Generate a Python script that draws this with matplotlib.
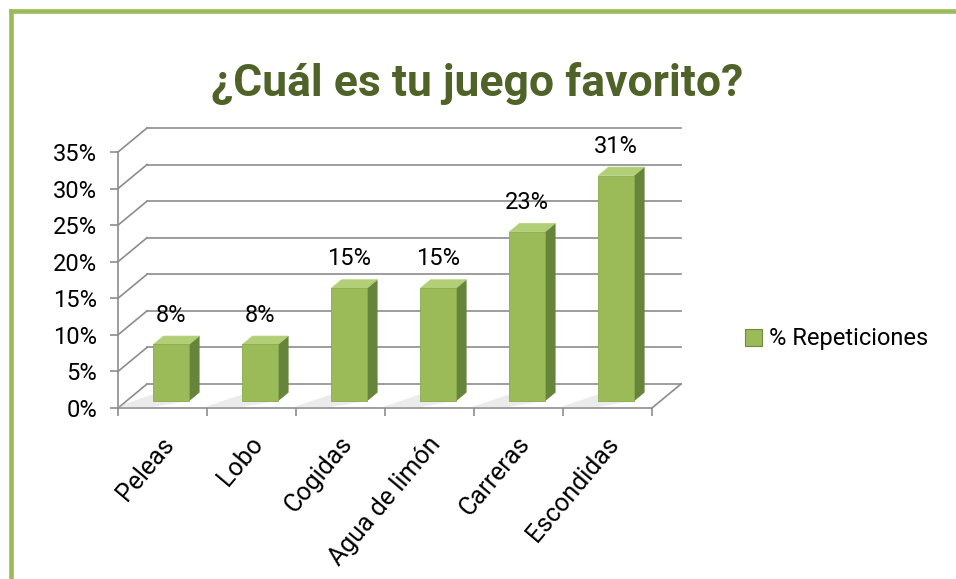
#!/usr/bin/env python3
"""
Recreates the "¿Cuál es tu juego favorito?" 3D-style column chart.
Output: out.png (956x579)
"""

import numpy as np
import matplotlib.pyplot as plt
from matplotlib.patches import Polygon, Rectangle
from matplotlib.lines import Line2D
from matplotlib.ticker import PercentFormatter
from matplotlib.transforms import ScaledTranslation

# -----------------------------
# Data
# -----------------------------
categories = ["Peleas", "Lobo", "Cogidas", "Agua de limón", "Carreras", "Escondidas"]
values = [0.077, 0.077, 0.154, 0.154, 0.231, 0.308]
y_ticks = [0.0, 0.05, 0.10, 0.15, 0.20, 0.25, 0.30, 0.35]
series_name = "% Repeticiones"
title = "¿Cuál es tu juego favorito?"

# -----------------------------
# Style
# -----------------------------
GREEN_FRONT = "#9BBB59"
GREEN_SIDE = "#67853A"
GREEN_TOP = "#B2CF78"
TITLE_COLOR = "#4F6228"
GRID = "#8C8C8C"
BORDER = "#9BBB59"

# oblique depth offset (full wall depth) in data units
DX = 0.326
DY = 0.0328
BAR_W = 0.40
Z_FRONT = 0.30
Z_BACK = 0.65

plt.rcParams["font.family"] = ["Roboto", "DejaVu Sans"]


def proj(x, y, z):
    return (x + z * DX, y + z * DY)


def main():
    W, H = 956, 579
    fig = plt.figure(figsize=(W / 100, H / 100), dpi=100)

    # outer green frame (left + top)
    fig.add_artist(Line2D([10.5 / W, 10.5 / W], [0, 1 - 11 / H],
                          transform=fig.transFigure, color=BORDER, lw=3.3))
    fig.add_artist(Line2D([10.5 / W, 1], [1 - 11 / H, 1 - 11 / H],
                          transform=fig.transFigure, color=BORDER, lw=3.3))

    fig.text(477 / W, 1 - 96 / H, title, ha="center", va="baseline",
             fontsize=32, fontweight="bold", color=TITLE_COLOR)

    ax = fig.add_axes([118 / W, 1 - 408 / H, 534 / W, 256 / H])
    n = len(categories)
    x0, x1 = -0.5, n - 0.5
    ax.set_xlim(x0, x1)
    ax.set_ylim(0, 0.35)
    for s in ax.spines.values():
        s.set_visible(False)

    # back wall gridlines + left wall connectors
    for yv in y_ticks:
        bx, by = proj(x0, yv, 1)
        ex, ey = proj(x1, yv, 1)
        ax.plot([bx, ex], [by, ey], color=GRID, lw=1.2, clip_on=False, zorder=1)
        ax.plot([x0, bx], [yv, by], color=GRID, lw=1.2, clip_on=False, zorder=1)

    # floor: front edge and right edge
    ax.plot([x0, x1], [0, 0], color=GRID, lw=1.2, clip_on=False, zorder=1)
    rx, ry = proj(x1, 0, 1)
    ax.plot([x1, rx], [0, ry], color=GRID, lw=1.2, clip_on=False, zorder=1)
    # front vertical axis
    ax.plot([x0, x0], [0, 0.35], color=GRID, lw=1.2, clip_on=False, zorder=1)

    # bars
    for i, v in enumerate(values):
        xl, xr = i - BAR_W / 2, i + BAR_W / 2

        # soft shadow on the floor
        shadow = [proj(xl - 0.05, 0, Z_BACK), proj(xl - 0.35, 0, 0.02),
                  proj(xr - 0.35, 0, 0.02), proj(xr, 0, Z_FRONT)]
        ax.add_patch(Polygon(shadow, closed=True, fc="#BFBFBF", ec="none",
                             alpha=0.3, clip_on=False, zorder=2))

        front = [proj(xl, 0, Z_FRONT), proj(xr, 0, Z_FRONT),
                 proj(xr, v, Z_FRONT), proj(xl, v, Z_FRONT)]
        side = [proj(xr, 0, Z_FRONT), proj(xr, 0, Z_BACK),
                proj(xr, v, Z_BACK), proj(xr, v, Z_FRONT)]
        top = [proj(xl, v, Z_FRONT), proj(xr, v, Z_FRONT),
               proj(xr, v, Z_BACK), proj(xl, v, Z_BACK)]
        ax.add_patch(Polygon(side, closed=True, fc=GREEN_SIDE, ec=GREEN_SIDE,
                             lw=0.5, clip_on=False, zorder=3))
        ax.add_patch(Polygon(top, closed=True, fc=GREEN_TOP, ec=GREEN_TOP,
                             lw=0.5, clip_on=False, zorder=3))
        ax.add_patch(Polygon(front, closed=True, fc=GREEN_FRONT, ec="#8AAA4C",
                             lw=0.6, clip_on=False, zorder=4))

        cx, cy = proj(i, v, Z_FRONT)
        ax.annotate(f"{v:.0%}", xy=(cx, cy), xytext=(0, 21),
                    textcoords="offset points", ha="center", va="center",
                    fontsize=17, color="black", annotation_clip=False, zorder=5)

    # y axis ticks
    ax.set_yticks(y_ticks)
    ax.yaxis.set_major_formatter(PercentFormatter(1.0, decimals=0))
    ax.tick_params(axis="y", length=6, width=1.2, color=GRID, pad=9,
                   labelsize=17, labelcolor="black")

    # x axis: labels at centres, tick marks between categories
    ax.set_xticks(range(n))
    ax.set_xticklabels(categories, rotation=50, ha="right", va="center",
                       rotation_mode="anchor", fontsize=18)
    ax.set_xticks(np.arange(x0, x1 + 0.01, 1.0), minor=True)
    ax.tick_params(axis="x", which="major", length=0, pad=23)
    ax.tick_params(axis="x", which="minor", length=6, width=1.2, color=GRID)
    for lbl in ax.get_xticklabels():
        lbl.set_transform(lbl.get_transform() +
                          ScaledTranslation(5 / 72, 0, fig.dpi_scale_trans))

    # legend
    handle = Rectangle((0, 0), 1, 1, fc=GREEN_FRONT, ec="#71893F", lw=0.8)
    fig.legend([handle], [series_name], loc="center left",
               bbox_to_anchor=(745 / W, 1 - 339 / H), frameon=False,
               handlelength=0.7, handleheight=0.7, handletextpad=0.3,
               borderpad=0, borderaxespad=0, fontsize=17)

    fig.savefig("out.png", dpi=100)
    plt.close(fig)


if __name__ == "__main__":
    main()
